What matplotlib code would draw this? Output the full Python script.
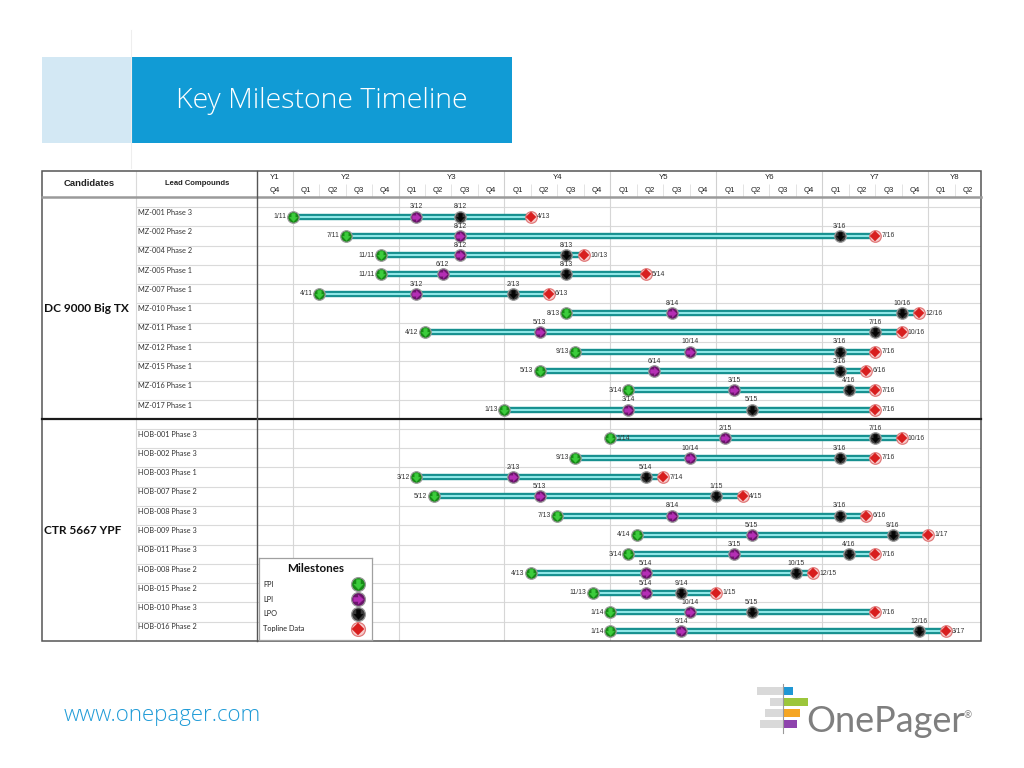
import matplotlib
matplotlib.use("Agg")
import matplotlib.pyplot as plt
from matplotlib.path import Path
from matplotlib.patches import Rectangle
from matplotlib.lines import Line2D

# ---------------- data ----------------
title = "Key Milestone Timeline"
years = ["Y1", "Y2", "Y3", "Y4", "Y5", "Y6", "Y7", "Y8"]
quarters = ["Q4"] + ["Q1", "Q2", "Q3", "Q4"] * 6 + ["Q1", "Q2"]
base_year = 10          # Y1 = '10
axis_start, axis_end = 8, 90   # months from Jan Y1 (Sep Y1 .. end Jun Y8)

candidates = ["DC 9000 Big TX", "CTR 5667 YPF"]
candidate_row = [5, 5]

compounds_1 = ["MZ-001 Phase 3", "MZ-002 Phase 2", "MZ-004 Phase 2", "MZ-005 Phase 1",
               "MZ-007 Phase 1", "MZ-010 Phase 1", "MZ-011 Phase 1", "MZ-012 Phase 1",
               "MZ-015 Phase 1", "MZ-016 Phase 1", "MZ-017 Phase 1"]
fpi_1 = ["1/11", "7/11", "11/11", "11/11", "4/11", "8/13", "4/12", "9/13", "5/13", "3/14", "1/13"]
lpi_1 = ["3/12", "8/12", "8/12", "6/12", "3/12", "8/14", "5/13", "10/14", "6/14", "3/15", "3/14"]
lpo_1 = ["8/12", "3/16", "8/13", "8/13", "2/13", "10/16", "7/16", "3/16", "3/16", "4/16", "5/15"]
td_1 = ["4/13", "7/16", "10/13", "5/14", "6/13", "12/16", "10/16", "7/16", "6/16", "7/16", "7/16"]

compounds_2 = ["HOB-001 Phase 3", "HOB-002 Phase 3", "HOB-003 Phase 1", "HOB-007 Phase 2",
               "HOB-008 Phase 3", "HOB-009 Phase 3", "HOB-011 Phase 3", "HOB-008 Phase 2",
               "HOB-015 Phase 2", "HOB-010 Phase 3", "HOB-016 Phase 2"]
fpi_2 = ["1/14", "9/13", "3/12", "5/12", "7/13", "4/14", "3/14", "4/13", "11/13", "1/14", "1/14"]
lpi_2 = ["2/15", "10/14", "2/13", "5/13", "8/14", "5/15", "3/15", "5/14", "5/14", "10/14", "9/14"]
lpo_2 = ["7/16", "3/16", "5/14", "1/15", "3/16", "9/16", "4/16", "10/15", "9/14", "5/15", "12/16"]
td_2 = ["10/16", "7/16", "7/14", "4/15", "6/16", "1/17", "7/16", "12/15", "1/15", "7/16", "3/17"]
fpi_label_right = ["HOB-001 Phase 3"]

legend_labels = ["FPI", "LPI", "LPO", "Topline Data"]
footer_url = "www.onepager.com"
logo_text = "OnePager"

# ---------------- helpers ----------------
W, H = 1024, 768
plt.rcParams["font.family"] = ["Lato", "DejaVu Sans"]
fig = plt.figure(figsize=(10.24, 7.68), dpi=100)


def box(x0, y0, x1, y1):
    return [x0 / W, 1 - y1 / H, (x1 - x0) / W, (y1 - y0) / H]


def fx(x):
    return x / W


def fy(y):
    return 1 - y / H


def month(s):
    m, yy = s.split("/")
    return (int(yy) - base_year) * 12 + int(m) - 1


def fline(x0, y0, x1, y1, **kw):
    fig.add_artist(Line2D([fx(x0), fx(x1)], [fy(y0), fy(y1)], transform=fig.transFigure, **kw))


def frect(x0, y0, x1, y1, **kw):
    fig.add_artist(Rectangle((fx(x0), fy(y1)), (x1 - x0) / W, (y1 - y0) / H,
                             transform=fig.transFigure, **kw))


down_arrow = Path([(-0.32, 0.75), (0.32, 0.75), (0.32, 0.05), (0.72, 0.05), (0, -0.75),
                   (-0.72, 0.05), (-0.32, 0.05), (-0.32, 0.75)],
                  [Path.MOVETO] + [Path.LINETO] * 6 + [Path.CLOSEPOLY])
right_arrow = Path([(-y, x) for x, y in down_arrow.vertices], down_arrow.codes)

styles = {
    "FPI": dict(fc="#178a17", mk=down_arrow, mc="#3ccc3c", ms=5.8),
    "LPI": dict(fc="#6b166b", mk=right_arrow, mc="#b52eb5", ms=5.8),
    "LPO": dict(fc="#3a3a3a", mk=down_arrow, mc="#050505", ms=5.8),
    "TD": dict(fc="#f7cccc", mk="D", mc="#d81e1e", ms=4.8),
}


def draw_marker(axis, xs, ys, key, scale=1.0, z=5):
    st = styles[key]
    ec = "#e07a7a" if key == "TD" else "#9a9a9a"
    axis.plot(xs, ys, ls="none", marker="o", ms=8.3 * scale, mfc=st["fc"], mec=ec,
              mew=0.9, zorder=z)
    axis.plot(xs, ys, ls="none", marker=st["mk"], ms=st["ms"] * scale, mfc=st["mc"],
              mec=st["mc"], mew=0.3, zorder=z + 1)


# ---------------- title banner ----------------
fline(131, 30, 131, 168, color="#eeeeee", lw=0.8)
frect(42, 57, 131.5, 143.3, facecolor="#d3e8f4", edgecolor="none")
frect(131.5, 57, 511.7, 143.3, facecolor="#119bd5", edgecolor="none")
fig.text(fx(322), fy(101), title, color="white", fontsize=20.5, family="Open Sans",
         fontweight="light", ha="center", va="center")

# ---------------- axes ----------------
TOP, HB, BOT = 171, 197.3, 641
XL, XC, XS, XR = 42, 136.3, 257.3, 981

ax = fig.add_axes(box(XS, HB, XR, BOT))
axl = fig.add_axes(box(XL, HB, XS, BOT), sharey=ax)
axh = fig.add_axes(box(XS, TOP, XR, HB), sharex=ax)
axlh = fig.add_axes(box(XL, TOP, XS, HB))
for a in (ax, axl, axh, axlh):
    a.set_xticks([])
    a.set_yticks([])
    for s in a.spines.values():
        s.set_visible(False)
    a.patch.set_alpha(0)

ax.set_xlim(axis_start, axis_end)
ax.set_ylim(23, 0)
axl.set_xlim(XL, XS)
axh.set_ylim(2, 0)
axlh.set_xlim(XL, XS)
axlh.set_ylim(2, 0)

n1, n2 = len(compounds_1), len(compounds_2)
rows_y1 = [1.0 + i for i in range(n1)]
rows_y2 = [12.5 + j for j in range(n2)]
sections = [
    (compounds_1, fpi_1, lpi_1, lpo_1, td_1, rows_y1),
    (compounds_2, fpi_2, lpi_2, lpo_2, td_2, rows_y2),
]

# row grid lines
grid_y = [0.5 + i for i in range(n1)] + [12.0 + j for j in range(n2)]
ax.hlines(grid_y, axis_start, axis_end, color="#dadada", lw=0.8, zorder=1)
axl.hlines(grid_y, XC, XS, color="#dadada", lw=0.8, zorder=1)
axl.vlines(XC, 0, 23, color="#dadada", lw=0.8)

# year lines (body + header)
year_starts = list(range(12, axis_end, 12))
ax.vlines(year_starts, 0, 23, color="#d6d6d6", lw=0.8, zorder=1)
axh.vlines(year_starts, 0, 2, color="#d0d0d0", lw=0.8)
q_lines = [m for m in range(15, axis_end, 3) if m % 12 != 0]
axh.vlines(q_lines, 1, 2, color="#e3e3e3", lw=0.7)

# header labels
year_bounds = [axis_start] + year_starts + [axis_end]
for i, yl in enumerate(years):
    axh.text((year_bounds[i] + year_bounds[i + 1]) / 2, 0.46, yl, ha="center", va="center",
             fontsize=5.6, family="Liberation Sans", color="#222")
q_bounds = [axis_start] + list(range(12, axis_end + 1, 3))
for i, ql in enumerate(quarters):
    axh.text((q_bounds[i] + q_bounds[i + 1]) / 2, 1.46, ql, ha="center", va="center",
             fontsize=5.6, family="Liberation Sans", color="#222")
axlh.vlines(XC, 0, 2, color="#dadada", lw=0.8)
axlh.text(89, 0.93, "Candidates", ha="center", va="center", fontsize=6.8,
          family="Liberation Sans", fontweight="bold", color="#222")
axlh.text(197, 0.93, "Lead Compounds", ha="center", va="center", fontsize=5.5,
          family="Liberation Sans", fontweight="bold", color="#222")

# candidates & compounds
for (comps, *_rest, ys), cand, crow in zip(sections, candidates, candidate_row):
    axl.text(44, ys[crow] - 0.23, cand, ha="left", va="center", fontsize=8.6,
             fontweight="bold", color="#111")
    for name, y in zip(comps, ys):
        axl.text(138, y - 0.23, name, ha="left", va="center", fontsize=5.3, color="#333")

# bars, markers, date labels
lab_kw = dict(fontsize=4.9, family="Liberation Sans", color="#333", zorder=8,
              textcoords="offset points")
for comps, fpi, lpi, lpo, td, ys in sections:
    xf = [month(s) for s in fpi]
    xi = [month(s) for s in lpi]
    xo = [month(s) for s in lpo]
    xt = [month(s) for s in td]
    ax.hlines(ys, xf, xt, color="#16908f", lw=4.6, zorder=3)
    ax.hlines(ys, xf, xt, color="#8ee6e6", lw=1.5, zorder=3)
    draw_marker(ax, xf, ys, "FPI")
    draw_marker(ax, xi, ys, "LPI")
    draw_marker(ax, xo, ys, "LPO")
    draw_marker(ax, xt, ys, "TD")
    for k, y in enumerate(ys):
        if comps[k] in fpi_label_right:
            ax.annotate(fpi[k], (xf[k], y), xytext=(4.4, 0), ha="left", va="center", **lab_kw)
        else:
            ax.annotate(fpi[k], (xf[k], y), xytext=(-4.6, 0), ha="right", va="center", **lab_kw)
        ax.annotate(lpi[k], (xi[k], y), xytext=(0, 7.0), ha="center", va="center", **lab_kw)
        ax.annotate(lpo[k], (xo[k], y), xytext=(0, 7.0), ha="center", va="center", **lab_kw)
        ax.annotate(td[k], (xt[k], y), xytext=(4.4, 0), ha="left", va="center", **lab_kw)

# table borders
fline(XL, HB, XR, HB, color="#9a9a9a", lw=1.8)
fline(XL, 419.1, XR, 419.1, color="#1a1a1a", lw=1.6)
fline(XS, TOP, XS, BOT, color="#555555", lw=1.0)
frect(XL, TOP, XR, BOT, facecolor="none", edgecolor="#555555", lw=1.1)

# ---------------- legend ----------------
lax = fig.add_axes(box(258.5, 558.3, 372.3, 640))
lax.set_zorder(10)
lax.set_xlim(0, 1)
lax.set_ylim(0, 1)
lax.set_xticks([])
lax.set_yticks([])
lax.set_facecolor("white")
for s in lax.spines.values():
    s.set_color("#a0a0a0")
    s.set_linewidth(0.9)
lax.text(0.505, 0.87, "Milestones", ha="center", va="center", fontsize=8.4,
         fontweight="bold", color="#111")
leg_y = [0.685, 0.50, 0.32, 0.135]
for lbl, yy, key in zip(legend_labels, leg_y, ["FPI", "LPI", "LPO", "TD"]):
    lax.text(0.04, yy, lbl, ha="left", va="center", fontsize=5.3, color="#222")
    draw_marker(lax, [0.872], [yy], key, scale=1.2)

# ---------------- footer ----------------
fig.text(fx(64), fy(716), footer_url, color="#1f9bd7", fontsize=16, family="Open Sans",
         fontweight="light", ha="left", va="center")
# logo
logo_bars = [(757, 687, 783, 695, "#d9d9d9"), (783, 687, 793, 695, "#1f97d4"),
             (770, 698, 783, 706, "#d9d9d9"), (783, 698, 808, 706, "#9cc63b"),
             (765, 709, 783, 717, "#d9d9d9"), (783, 709, 800, 717, "#f5a623"),
             (760, 720, 783, 728, "#d9d9d9"), (783, 720, 797, 728, "#8e44ad")]
for x0, y0, x1, y1, c in logo_bars:
    frect(x0, y0, x1, y1, facecolor=c, edgecolor="none")
fline(783, 684, 783, 733, color="#9a9a9a", lw=0.8)
fig.text(fx(806), fy(722), logo_text, color="#7f7f7f", fontsize=26, fontweight="normal",
         ha="left", va="center")
fig.text(fx(964), fy(716), "®", color="#7f7f7f", fontsize=7, ha="left", va="center")

fig.savefig("out.png", dpi=100, facecolor="white")
